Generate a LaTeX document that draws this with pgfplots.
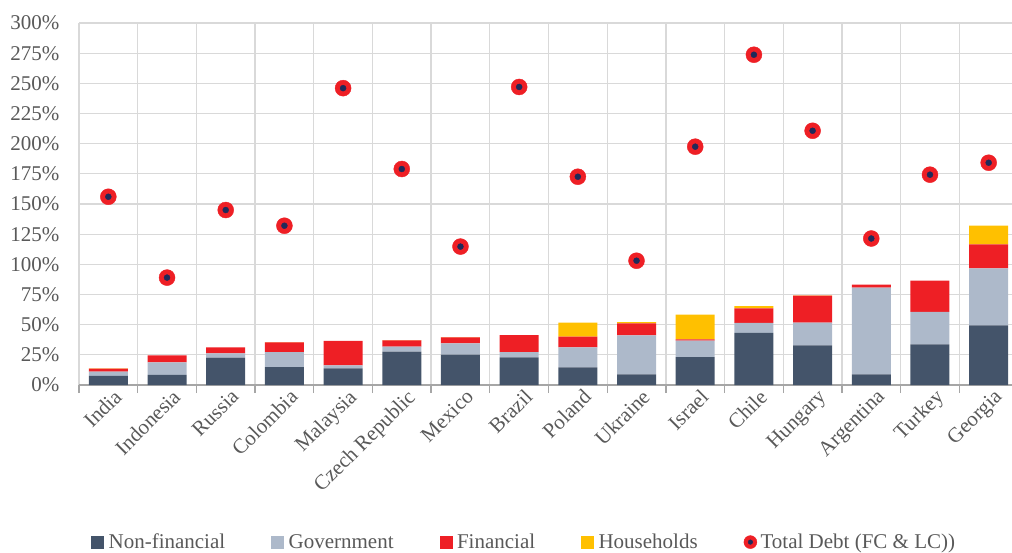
\documentclass[border=0pt]{standalone}
\usepackage{pgfplots}
\pgfplotsset{compat=1.18}
\usepackage{fontspec}
\setmainfont{Liberation Serif}
\definecolor{nonfin}{HTML}{44546A}
\definecolor{gov}{HTML}{ADB9CA}
\definecolor{fin}{HTML}{EE1F25}
\definecolor{hh}{HTML}{FFC000}
\definecolor{navy}{HTML}{1F2A5A}
\definecolor{txt}{HTML}{595959}
\definecolor{gridc}{HTML}{D9D9D9}
\definecolor{axc}{HTML}{A6A6A6}
\begin{document}
\begin{tikzpicture}
\pgfplotsset{base/.style={scale only axis, width=939pt, height=362pt,
  xmin=-0.5, xmax=15.5, ymin=0, ymax=300,
  at={(79pt,167pt)}, anchor=south west}}
\begin{axis}[base, ybar stacked, bar width=0.665,
  axis x line*=bottom, axis y line*=left,
  y axis line style={draw=none},
  x axis line style={draw=axc, line width=1.5pt},
  ytick={0,25,...,300},
  yticklabel={\pgfmathprintnumber{\tick}\%},
  /pgf/number format/assume math mode=true,
  ymajorgrids, major grid style={draw=gridc, line width=1.3pt},
  xtick={0,...,15},
  xticklabels={India,Indonesia,Russia,Colombia,Malaysia,Czech Republic,Mexico,Brazil,Poland,Ukraine,Israel,Chile,Hungary,Argentina,Turkey,Georgia},
  major tick length=0pt,
  minor xtick={-0.5,0.5,1.5,2.5,3.5,4.5,5.5,6.5,7.5,8.5,9.5,10.5,11.5,12.5,13.5,14.5,15.5},
  xminorgrids, minor grid style={draw=gridc, line width=1.3pt},
  tick align=outside, minor tick length=8pt,
  minor x tick style={draw=axc, line width=1.3pt},
  major x tick style={draw=none}, y tick style={draw=none},
  yticklabel style={font=\fontsize{21pt}{24pt}\selectfont, text=txt, xshift=-16pt},
  xticklabel style={font=\fontsize{21pt}{24pt}\selectfont, text=txt, rotate=45, anchor=north east, inner sep=2pt, yshift=-3pt, xshift=3pt},
]
\addplot[fill=nonfin, draw=none] coordinates {(0,7.5) (1,8.3) (2,22.6) (3,14.9) (4,13.8) (5,27.6) (6,25.1) (7,22.9) (8,14.6) (9,8.8) (10,23.2) (11,43.1) (12,32.8) (13,8.8) (14,33.7) (15,49.4)};
\addplot[fill=gov, draw=none] coordinates {(0,3.5) (1,10.4) (2,3.6) (3,12.4) (4,2.5) (5,4.1) (6,9.4) (7,4.4) (8,16.6) (9,32.3) (10,13.5) (11,8.3) (12,18.8) (13,71.8) (14,27.0) (15,47.2)};
\addplot[fill=fin, draw=none] coordinates {(0,2.5) (1,5.8) (2,5.0) (3,8.0) (4,20.2) (5,5.3) (6,5.0) (7,14.1) (8,8.8) (9,9.9) (10,1.1) (11,12.1) (12,22.4) (13,2.5) (14,25.7) (15,19.9)};
\addplot[fill=hh, draw=none] coordinates {(0,0.3) (1,0) (2,0) (3,0.3) (4,0) (5,0.2) (6,0.2) (7,0) (8,11.6) (9,1.2) (10,20.5) (11,1.9) (12,0.3) (13,0) (14,0) (15,15.5)};
\end{axis}
\begin{axis}[base, hide axis,
  legend columns=5,
  legend style={at={(0.0096,-0.434)}, anchor=west, draw=none, fill=none,
    font=\fontsize{21pt}{24pt}\selectfont, text=txt,
    /tikz/every odd column/.append style={column sep=0pt},
    /tikz/every even column/.append style={column sep=44pt}},
  legend cell align=left,
]
\addlegendimage{legend image code/.code={\fill[nonfin] (0pt,-6pt) rectangle (12pt,6pt); \path (15pt,0pt);}}
\addlegendentry{Non-financial}
\addlegendimage{legend image code/.code={\fill[gov] (0pt,-6pt) rectangle (12pt,6pt); \path (15pt,0pt);}}
\addlegendentry{Government}
\addlegendimage{legend image code/.code={\fill[fin] (0pt,-6pt) rectangle (12pt,6pt); \path (15pt,0pt);}}
\addlegendentry{Financial}
\addlegendimage{legend image code/.code={\fill[hh] (0pt,-6pt) rectangle (12pt,6pt); \path (15pt,0pt);}}
\addlegendentry{Households}
\addplot[only marks, mark=*, mark size=8pt, color=fin,
  legend image code/.code={\fill[fin] (6pt,0pt) circle (6.5pt); \fill[navy] (6pt,0pt) circle (2.3pt); \path (14pt,0pt);}]
  coordinates {(0,156) (1,89) (2,145) (3,132) (4,246) (5,179) (6,114.7) (7,247) (8,172.6) (9,103) (10,197.5) (11,273.7) (12,210.7) (13,121.4) (14,174.3) (15,184.2)};
\addlegendentry{Total Debt (FC \& LC))}
\addplot[only marks, mark=*, mark size=3pt, color=navy, forget plot]
  coordinates {(0,156) (1,89) (2,145) (3,132) (4,246) (5,179) (6,114.7) (7,247) (8,172.6) (9,103) (10,197.5) (11,273.7) (12,210.7) (13,121.4) (14,174.3) (15,184.2)};
\end{axis}
\pgfresetboundingbox
\path[use as bounding box] (0,0) rectangle (1012pt,552pt);
\end{tikzpicture}
\end{document}
